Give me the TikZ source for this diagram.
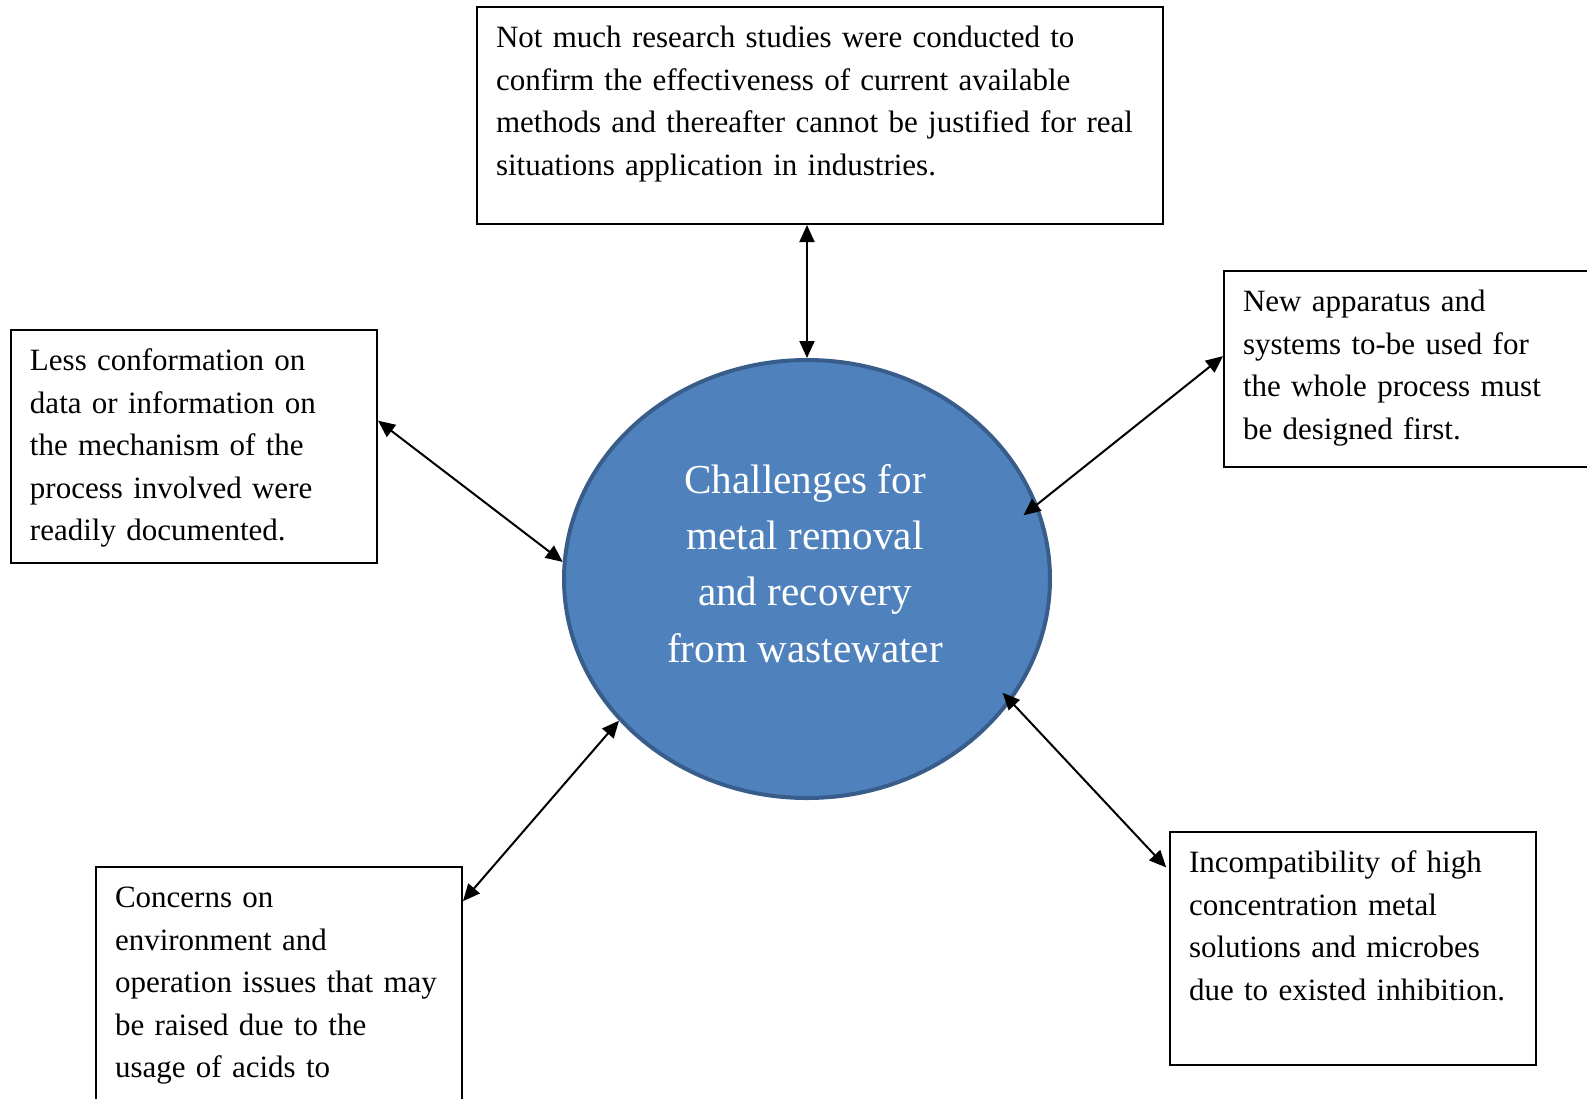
\documentclass[tikz,border=0pt]{standalone}
\usepackage{fontspec}
\setmainfont{Liberation Serif}
\usetikzlibrary{arrows.meta,shapes.geometric}

\definecolor{hubblue}{HTML}{4F81BD}
\definecolor{hubedge}{HTML}{385D8A}

\begin{document}
\begin{tikzpicture}[x=0.5pt,y=-0.5pt,
    box/.style={draw,line width=1pt,anchor=north west,align=left,inner xsep=9.5pt,inner ysep=10pt,text height=10.3pt,font=\fontsize{15.5}{21.25}\selectfont},
    side/.style={box,text width=164pt},
    hub/.style={ellipse,draw=hubedge,fill=hubblue,line width=2pt,minimum width=243pt,minimum height=219pt,inner sep=0pt},
    arr/.style={{Triangle[length=8.5pt,width=7.5pt]}-{Triangle[length=8.5pt,width=7.5pt]},line width=1pt}]
  \useasboundingbox (0,0) rectangle (1587,1099);
  \node[hub] (hub) at (807,579) {};
  \node[white,align=center,anchor=base,font=\fontsize{20.6}{28.15}\selectfont] (hubtext) at (805,662) {Challenges for\\metal removal\\and recovery\\from wastewater};
  \node[box,text width=324pt,text depth=78.2pt] (studies) at (476,6) {Not much research studies were conducted to\\confirm the effectiveness of current available\\methods and thereafter cannot be justified for real\\situations application in industries.};
  \node[side,text depth=86.2pt] (mechanism) at (10,329) {Less conformation on\\data or information on\\the mechanism of the\\process involved were\\readily documented.};
  \node[side,text depth=67.7pt] (apparatus) at (1223,270) {New apparatus and\\systems to-be used for\\the whole process must\\be designed first.};
  \node[side,text depth=89.7pt] (concerns) at (95,866) {Concerns on\\environment and\\operation issues that may\\be raised due to the\\usage of acids to};
  \node[side,text depth=86.2pt] (microbes) at (1169,831) {Incompatibility of high\\concentration metal\\solutions and microbes\\due to existed inhibition.};
  \draw[arr] (studies.south -| hub.north) -- (hub.north);
  \draw[arr] (mechanism.8) -- (hub.176);
  \draw[arr,shorten >=-9pt] (apparatus.176) -- (hub.18);
  \draw[arr] (concerns.25) -- (hub.217);
  \draw[arr,shorten >=-6pt,shorten <=2pt] (microbes.157) -- (hub.-31);
\end{tikzpicture}
\end{document}
